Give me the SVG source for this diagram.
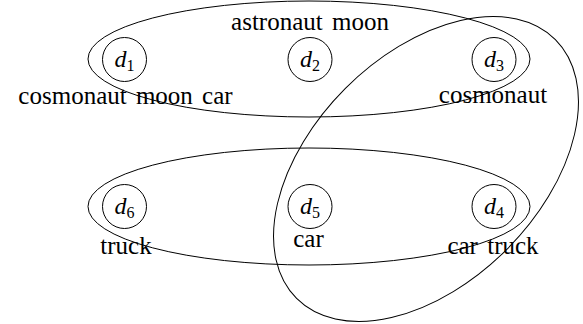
<svg xmlns="http://www.w3.org/2000/svg" width="583" height="324" viewBox="0 0 583 324">
<style>
.ring{fill:none;stroke:#000;stroke-width:1}
.node circle{fill:none;stroke:#000;stroke-width:1}
.lbl{font-family:"Liberation Serif","Times New Roman",serif;font-size:25px;fill:#000;text-anchor:middle;word-spacing:3px}
.dl{font-family:"Liberation Serif","Times New Roman",serif;font-size:24px;fill:#000;text-anchor:middle}
.dl .v{font-style:italic}
.dl .s{font-size:16px}
</style>
<rect width="583" height="324" fill="#fff"/>
<g id="edges">
<ellipse class="ring" cx="309" cy="59" rx="221" ry="58"/>
<ellipse class="ring" cx="309" cy="206.5" rx="221" ry="58.5"/>
<ellipse class="ring" cx="426" cy="169" rx="183" ry="114" transform="rotate(-45 426 169)"/>
</g>
<g id="d1" class="node"><circle cx="124.5" cy="59.5" r="22"/><text class="dl" x="124.5" y="67"><tspan class="v">d</tspan><tspan class="s" dy="3.5">1</tspan></text><text class="lbl" x="125.5" y="104">cosmonaut moon car</text></g>
<g id="d2" class="node"><circle cx="310" cy="59.5" r="22"/><text class="dl" x="310" y="67"><tspan class="v">d</tspan><tspan class="s" dy="3.5">2</tspan></text><text class="lbl" x="310" y="30">astronaut moon</text></g>
<g id="d3" class="node"><circle cx="494" cy="59.5" r="22"/><text class="dl" x="494" y="67"><tspan class="v">d</tspan><tspan class="s" dy="3.5">3</tspan></text><text class="lbl" x="493" y="103">cosmonaut</text></g>
<g id="d4" class="node"><circle cx="494" cy="206.5" r="22"/><text class="dl" x="494" y="214"><tspan class="v">d</tspan><tspan class="s" dy="3.5">4</tspan></text><text class="lbl" x="493" y="254">car truck</text></g>
<g id="d5" class="node"><circle cx="310" cy="206.5" r="22"/><text class="dl" x="310" y="214"><tspan class="v">d</tspan><tspan class="s" dy="3.5">5</tspan></text><text class="lbl" x="308.5" y="247">car</text></g>
<g id="d6" class="node"><circle cx="124.5" cy="206.5" r="22"/><text class="dl" x="124.5" y="214"><tspan class="v">d</tspan><tspan class="s" dy="3.5">6</tspan></text><text class="lbl" x="126" y="254">truck</text></g>
</svg>
